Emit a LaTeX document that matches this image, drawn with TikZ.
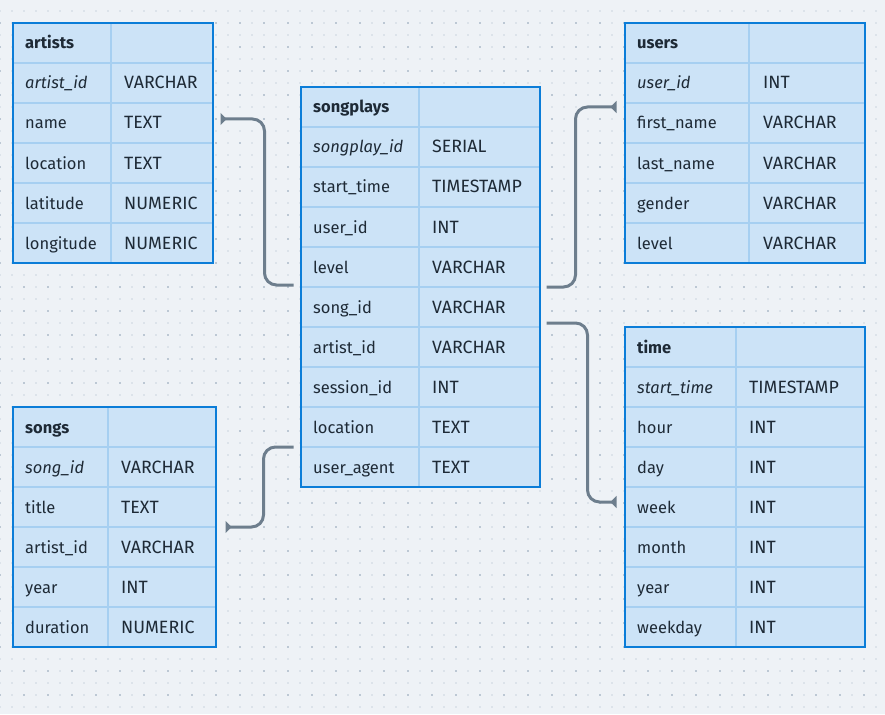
\documentclass[tikz,border=0pt]{standalone}
\usepackage{fontspec}
\setmainfont{Fira Sans}
\usetikzlibrary{arrows.meta}

\definecolor{bgcol}{HTML}{EEF2F6}
\definecolor{dotminor}{HTML}{DCE3EA}
\definecolor{dotmajor}{HTML}{BCC8D4}
\definecolor{tabcol}{HTML}{CCE3F7}
\definecolor{bordercol}{HTML}{0B7DD8}
\definecolor{cellcol}{HTML}{A6CFF1}
\definecolor{textcol}{HTML}{1E2A36}
\definecolor{linkcol}{HTML}{6D7E8D}

\begin{document}
\begin{tikzpicture}[x=1pt,y=-1pt,
  tabbox/.style={fill=tabcol, anchor=north west, inner sep=0pt, outer sep=0pt},
  cellline/.style={draw=cellcol, line width=1.6pt},
  tabborder/.style={draw=bordercol, line width=2pt},
  fieldtxt/.style={anchor=base west, inner sep=0pt, text=textcol, font=\fontsize{16.5}{18}\selectfont},
  typetxt/.style={fieldtxt, font=\fontsize{17.8}{19}\selectfont},
  keytxt/.style={fieldtxt, font=\fontsize{16.5}{18}\selectfont\itshape},
  headtxt/.style={fieldtxt, font=\fontsize{16.5}{18}\selectfont\bfseries},
  link/.style={draw=linkcol, line width=3pt, rounded corners=12pt,
    -{Triangle[reversed,length=6pt,width=12pt]}}]
\useasboundingbox (0,0) rectangle (885,714);
\fill[bgcol] (0,0) rectangle (885,714);
% dot grid
\foreach \x in {0,12,...,876}
  \foreach \y in {11,23,...,707}
    \fill[dotminor] (\x-1,\y-1) rectangle (\x+1,\y+1);
\foreach \x in {0,24,...,864}
  \foreach \y in {23,47,...,695}
    \fill[dotmajor] (\x-1,\y-1) rectangle (\x+1,\y+1);

% artists
\node[tabbox, minimum width=200pt, minimum height=240pt] (artists) at (12.5,23) {};
\foreach \y in {63,103,...,223} \draw[cellline] (12.5,\y) -- (212.5,\y);
\draw[cellline] (111,23) -- (111,263);
\draw[tabborder] (artists.north west) rectangle (artists.south east);
\node[headtxt] (artists-h) at (25,49) {artists};
\node[keytxt] (artists-k) at (25,89) {artist\_id};
\node[typetxt] at (124,89) {VARCHAR};
\foreach \f/\t [count=\i] in {name/TEXT, location/TEXT, latitude/NUMERIC, longitude/NUMERIC} {
  \node[fieldtxt] at (25,89+40*\i) {\f};
  \node[typetxt] at (124,89+40*\i) {\t};
}

% songs
\node[tabbox, minimum width=203pt, minimum height=240pt] (songs) at (12.5,407) {};
\foreach \y in {447,487,...,607} \draw[cellline] (12.5,\y) -- (215.5,\y);
\draw[cellline] (108,407) -- (108,647);
\draw[tabborder] (songs.north west) rectangle (songs.south east);
\node[headtxt] (songs-h) at (25,433) {songs};
\node[keytxt] (songs-k) at (25,473) {song\_id};
\node[typetxt] at (121,473) {VARCHAR};
\foreach \f/\t [count=\i] in {title/TEXT, artist\_id/VARCHAR, year/INT, duration/NUMERIC} {
  \node[fieldtxt] at (25,473+40*\i) {\f};
  \node[typetxt] at (121,473+40*\i) {\t};
}

% songplays
\node[tabbox, minimum width=239pt, minimum height=400pt] (songplays) at (300.5,87) {};
\foreach \y in {127,167,...,447} \draw[cellline] (300.5,\y) -- (539.5,\y);
\draw[cellline] (419,87) -- (419,487);
\draw[tabborder] (songplays.north west) rectangle (songplays.south east);
\node[headtxt] (songplays-h) at (313,113) {songplays};
\node[keytxt] (songplays-k) at (313,153) {songplay\_id};
\node[typetxt] at (432,153) {SERIAL};
\foreach \f/\t [count=\i] in {start\_time/TIMESTAMP, user\_id/INT, level/VARCHAR, song\_id/VARCHAR,
    artist\_id/VARCHAR, session\_id/INT, location/TEXT, user\_agent/TEXT} {
  \node[fieldtxt] at (313,153+40*\i) {\f};
  \node[typetxt] at (432,153+40*\i) {\t};
}

% users
\node[tabbox, minimum width=240pt, minimum height=240pt] (users) at (624.5,23) {};
\foreach \y in {63,103,...,223} \draw[cellline] (624.5,\y) -- (864.5,\y);
\draw[cellline] (749,23) -- (749,263);
\draw[tabborder] (users.north west) rectangle (users.south east);
\node[headtxt] (users-h) at (637,49) {users};
\node[keytxt] (users-k) at (637,89) {user\_id};
\node[typetxt] at (763,89) {INT};
\foreach \f/\t [count=\i] in {first\_name/VARCHAR, last\_name/VARCHAR, gender/VARCHAR, level/VARCHAR} {
  \node[fieldtxt] at (637,89+40*\i) {\f};
  \node[typetxt] at (763,89+40*\i) {\t};
}

% time
\node[tabbox, minimum width=240pt, minimum height=320pt] (time) at (624.5,327) {};
\foreach \y in {367,407,...,607} \draw[cellline] (624.5,\y) -- (864.5,\y);
\draw[cellline] (736,327) -- (736,647);
\draw[tabborder] (time.north west) rectangle (time.south east);
\node[headtxt] (time-h) at (637,353) {time};
\node[keytxt] (time-k) at (637,393) {start\_time};
\node[typetxt] at (749,393) {TIMESTAMP};
\foreach \f/\t [count=\i] in {hour/INT, day/INT, week/INT, month/INT, year/INT, weekday/INT} {
  \node[fieldtxt] at (637,393+40*\i) {\f};
  \node[typetxt] at (749,393+40*\i) {\t};
}

% links
\draw[link] ([xshift=-7pt]songplays.west |- 0,285) -- ++(-29,0) |- ([xshift=8pt]artists.east |- 0,119);
\draw[link] ([xshift=-7pt]songplays.west |- 0,447) -- ++(-30,0) |- ([xshift=10pt]songs.east |- 0,527);
\draw[link] ([xshift=7pt]songplays.east |- 0,287) -- ++(29,0) |- ([xshift=-8pt]users.west |- 0,107);
\draw[link] ([xshift=7pt]songplays.east |- 0,323) -- ++(41,0) |- ([xshift=-8pt]time.west |- 0,502);
\end{tikzpicture}
\end{document}
